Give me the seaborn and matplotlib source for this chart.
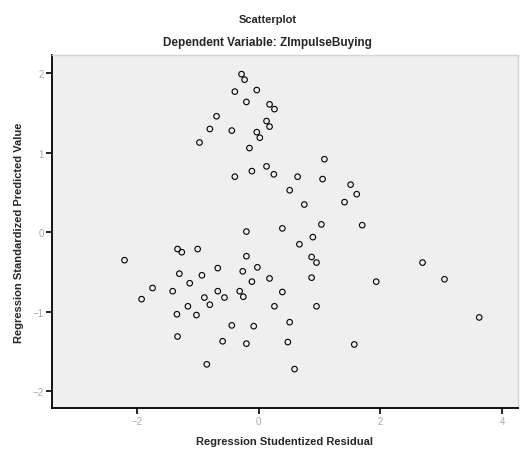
import matplotlib
matplotlib.use("Agg")
import matplotlib.pyplot as plt
import seaborn as sns
import pandas as pd

# regression studentized residual (x) and standardized predicted value (y)
studentized_residual = [
    -0.28, -0.23, -0.39, -0.03, -0.20, 0.18, 0.26, -0.69, -0.80, -0.44,
    0.13, 0.18, -0.03, 0.02, -0.97, -0.15, -0.39, -0.11, 0.13, 0.25,
    0.64, 1.05, 1.08, 0.51, 0.75, 1.41, 1.51, 1.61, 1.03, 1.70,
    0.39, 0.89, 0.67, 0.87, 0.95, 0.87, 1.93, 2.69, 3.05, 3.62,
    0.39, 0.95, 0.51, 0.48, 1.57, 0.59, -0.20, -2.20, -1.33, -1.26,
    -1.00, -0.20, -1.30, -0.93, -0.67, -1.13, -0.26, -0.11, -0.02, 0.18,
    -1.74, -1.92, -1.41, -0.67, -0.56, -0.31, -0.25, -0.89, -0.80, -1.16,
    -1.02, -1.34, 0.26, -0.44, -0.08, -1.33, -0.59, -0.20, -0.85,
]
standardized_predicted = [
    1.99, 1.92, 1.77, 1.79, 1.64, 1.61, 1.55, 1.46, 1.30, 1.28,
    1.40, 1.33, 1.26, 1.19, 1.13, 1.06, 0.70, 0.77, 0.83, 0.73,
    0.70, 0.67, 0.92, 0.53, 0.35, 0.38, 0.60, 0.48, 0.10, 0.09,
    0.05, -0.06, -0.15, -0.31, -0.38, -0.57, -0.62, -0.38, -0.59, -1.07,
    -0.75, -0.93, -1.13, -1.38, -1.41, -1.72, 0.01, -0.35, -0.21, -0.25,
    -0.21, -0.30, -0.52, -0.54, -0.45, -0.64, -0.49, -0.62, -0.44, -0.58,
    -0.70, -0.84, -0.74, -0.74, -0.82, -0.74, -0.81, -0.82, -0.91, -0.93,
    -1.04, -1.03, -0.93, -1.17, -1.18, -1.31, -1.37, -1.40, -1.66,
]
x_ticks = [-2, 0, 2, 4]
y_ticks = [-2, -1, 0, 1, 2]

df = pd.DataFrame({"resid": studentized_residual, "pred": standardized_predicted})

sns.set_style("white")
plt.rcParams["font.family"] = ["Liberation Sans", "DejaVu Sans"]

fig = plt.figure(figsize=(5.22, 4.52), dpi=100)
ax = fig.add_axes([0.0996, 0.095, 0.892, 0.781])
ax.set_facecolor("#efefef")

sns.scatterplot(data=df, x="resid", y="pred", ax=ax, marker="o",
                facecolors="none", edgecolor="black", linewidth=0.8, s=16)

ax.set_xlim(-3.39, 4.25)
ax.set_ylim(-2.21, 2.23)
ax.set_xticks(x_ticks)
ax.set_yticks(y_ticks)
ax.tick_params(axis="both", direction="out", length=4, width=1.2, color="black",
               bottom=True, left=True, labelsize=7, labelcolor="#aaaaaa", pad=2)

for side in ["left", "bottom"]:
    ax.spines[side].set_color("black")
    ax.spines[side].set_linewidth(1.3)
for side in ["top", "right"]:
    ax.spines[side].set_color("#d4d4d4")
    ax.spines[side].set_linewidth(1.0)

ax.set_xlabel("Regression Studentized Residual", fontsize=8, fontweight="bold", labelpad=7)
ax.set_ylabel("Regression Standardized Predicted Value", fontsize=8, fontweight="bold", labelpad=6)

fig.text(0.513, 0.956, "Scatterplot", ha="center", va="center", fontsize=8, fontweight="bold")
fig.text(0.513, 0.905, "Dependent Variable: ZImpulseBuying", ha="center", va="center",
         fontsize=8.5, fontweight="bold")

fig.savefig("out.png", dpi=100)
